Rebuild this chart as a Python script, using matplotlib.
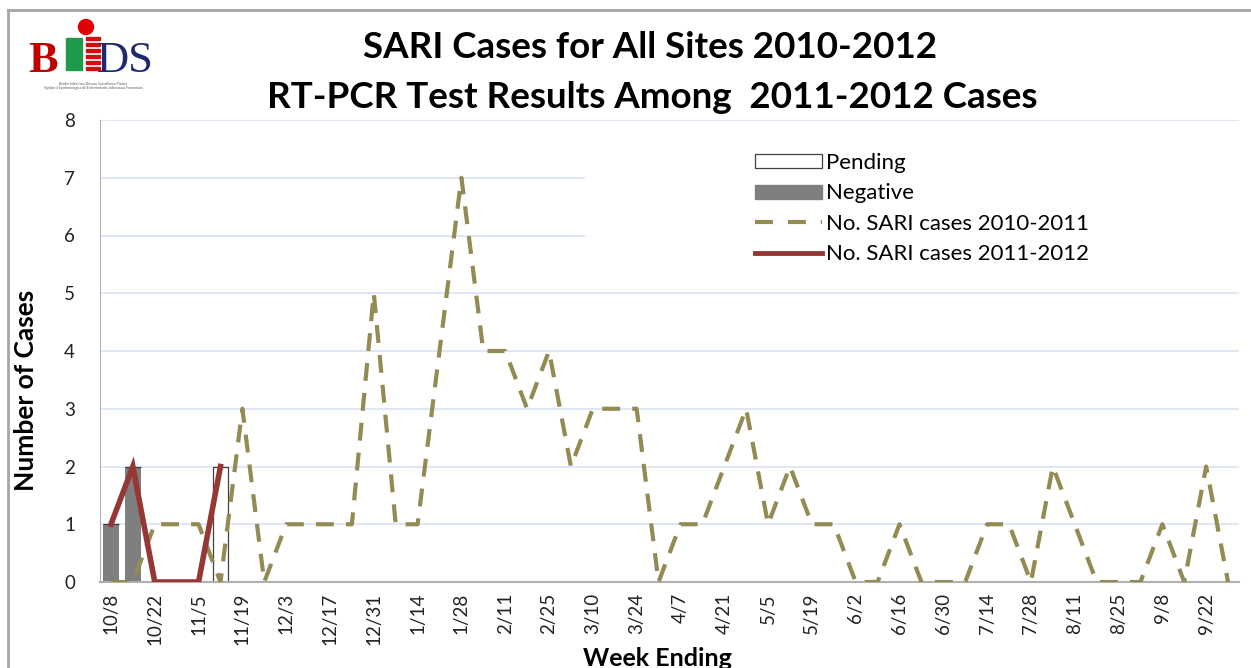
import numpy as np
import matplotlib
matplotlib.use("Agg")
import matplotlib.pyplot as plt
from matplotlib.patches import Rectangle, Ellipse, Patch
from matplotlib.lines import Line2D

plt.rcParams['font.family'] = ['Lato', 'DejaVu Sans']

# week ending dates (2011-2012 season)
weeks = ['10/8', '10/15', '10/22', '10/29', '11/5', '11/12', '11/19', '11/26',
         '12/3', '12/10', '12/17', '12/24', '12/31', '1/7', '1/14', '1/21',
         '1/28', '2/4', '2/11', '2/18', '2/25', '3/3', '3/10', '3/17', '3/24',
         '3/31', '4/7', '4/14', '4/21', '4/28', '5/5', '5/12', '5/19', '5/26',
         '6/2', '6/9', '6/16', '6/23', '6/30', '7/7', '7/14', '7/21', '7/28',
         '8/4', '8/11', '8/18', '8/25', '9/1', '9/8', '9/15', '9/22', '9/29']

sari_2010_2011 = [0, 0, 1, 1, 1, 0, 3, 0, 1, 1, 1, 1, 5, 1, 1, 4, 7, 4, 4, 3,
                  4, 2, 3, 3, 3, 0, 1, 1, 2, 3, 1, 2, 1, 1, 0, 0, 1, 0, 0, 0,
                  1, 1, 0, 2, 1, 0, 0, 0, 1, 0, 2, 0]
sari_2011_2012 = [1, 2, 0, 0, 0, 2]
negative = [1, 2, 0, 0, 0, 0]
pending = [0, 0, 0, 0, 0, 2]

OLIVE = '#948a54'
DARKRED = '#953735'
GRAY = '#7f7f7f'

fig = plt.figure(figsize=(12.51, 6.68), dpi=100)
W, H = 1251, 668
ax = fig.add_axes([100 / W, 1 - 582 / H, 1139 / W, 462 / H])

x = np.arange(len(weeks))
x_cur = np.arange(len(sari_2011_2012))

ax.bar(x_cur, negative, width=0.72, color=GRAY, zorder=2)
ax.bar(x_cur, pending, width=0.72, bottom=negative, facecolor='white',
       edgecolor='#404040', linewidth=0.9, zorder=2)
ax.plot(x, sari_2010_2011, color=OLIVE, lw=3, ls=(0, (4.3, 2.9)), zorder=3)
ax.plot(x_cur, sari_2011_2012, color=DARKRED, lw=4, zorder=4,
        solid_joinstyle='miter')

ax.set_xlim(-0.5, len(weeks) - 0.5)
ax.set_ylim(0, 8)
ax.set_yticks(range(0, 9))
ax.set_xticks(x[::2])
ax.set_xticklabels(weeks[::2], rotation=90)
ax.tick_params(axis='both', length=0, labelsize=13.5, colors='#222222')
ax.tick_params(axis='x', pad=8)
ax.tick_params(axis='y', pad=18)
ax.grid(axis='y', color='#d9e1f4', lw=1.2)
ax.set_axisbelow(True)
for s in ['top', 'right']:
    ax.spines[s].set_visible(False)
ax.spines['left'].set_color('#b0b0b0')
ax.spines['bottom'].set_color('#b0b0b0')
ax.spines['bottom'].set_linewidth(1.5)

# white legend area hiding the grid
ax.add_patch(Rectangle((485 / 1139, 0.63), 1 - 485 / 1139, 0.32,
                       transform=ax.transAxes, facecolor='white',
                       edgecolor='none', zorder=1))

handles = [Patch(facecolor='white', edgecolor='#404040', linewidth=0.9),
           Patch(facecolor=GRAY, edgecolor=GRAY),
           Line2D([], [], color=OLIVE, lw=3, ls=(0, (4.3, 3.6))),
           Line2D([], [], color=DARKRED, lw=3.5)]
labels = ['Pending', 'Negative', 'No. SARI cases 2010-2011',
          'No. SARI cases 2011-2012']
fig.legend(handles, labels, loc='upper left',
           bbox_to_anchor=(755 / W, 1 - 153 / H), frameon=False, fontsize=16,
           handlelength=3.0, handleheight=0.6, handletextpad=0.2,
           labelspacing=0.47, borderpad=0, borderaxespad=0)

ax.set_ylabel('Number of Cases', fontsize=19, fontweight='bold')
ax.yaxis.set_label_coords(-62 / 1139, 0.415)
fig.text(657 / W, 1 - 658 / H, 'Week Ending', ha='center', va='center',
         fontsize=18, fontweight='bold')

fig.text(650 / W, 1 - 48 / H, 'SARI Cases for All Sites 2010-2012',
         ha='center', va='center', fontsize=26.5, fontweight='bold')
fig.text(652 / W, 1 - 97 / H, 'RT-PCR Test Results Among  2011-2012 Cases',
         ha='center', va='center', fontsize=26.5, fontweight='bold')

# outer frame
fig.add_artist(Line2D([8 / W, 8 / W], [0, 1 - 10 / H], color='#a6a6a6', lw=2))
fig.add_artist(Line2D([8 / W, 1], [1 - 10 / H, 1 - 10 / H], color='#a6a6a6', lw=2))

# BIDS logo (approximate)
fig.text(28 / W, 1 - 72 / H, 'B', fontsize=32, fontweight='bold',
         family='Liberation Serif', color='#c00000', va='baseline')
fig.add_artist(Ellipse((86 / W, 1 - 27 / H), 15 / W, 15 / H,
                       transform=fig.transFigure, color='#e00000'))
fig.add_artist(Rectangle((66 / W, 1 - 70 / H), 16 / W, 32 / H,
                         transform=fig.transFigure, color='#1e9a4a'))
for k in range(6):
    fig.add_artist(Rectangle((86 / W, 1 - (40 + 6 * k) / H), 14 / W, 3 / H,
                             transform=fig.transFigure, color='#d01010'))
fig.text(97 / W, 1 - 72 / H, 'DS', fontsize=32,
         family='Liberation Serif', color='#1f2a6e', va='baseline')
fig.text(93 / W, 1 - 82 / H,
         'Border Infectious Disease Surveillance Project\n'
         'Vigilancia Epidemiologica de Enfermedades Infecciosas Fronterizas',
         fontsize=2.4, color='#555555', ha='center', va='top',
         linespacing=1.1)

fig.savefig('out.png', dpi=100)
